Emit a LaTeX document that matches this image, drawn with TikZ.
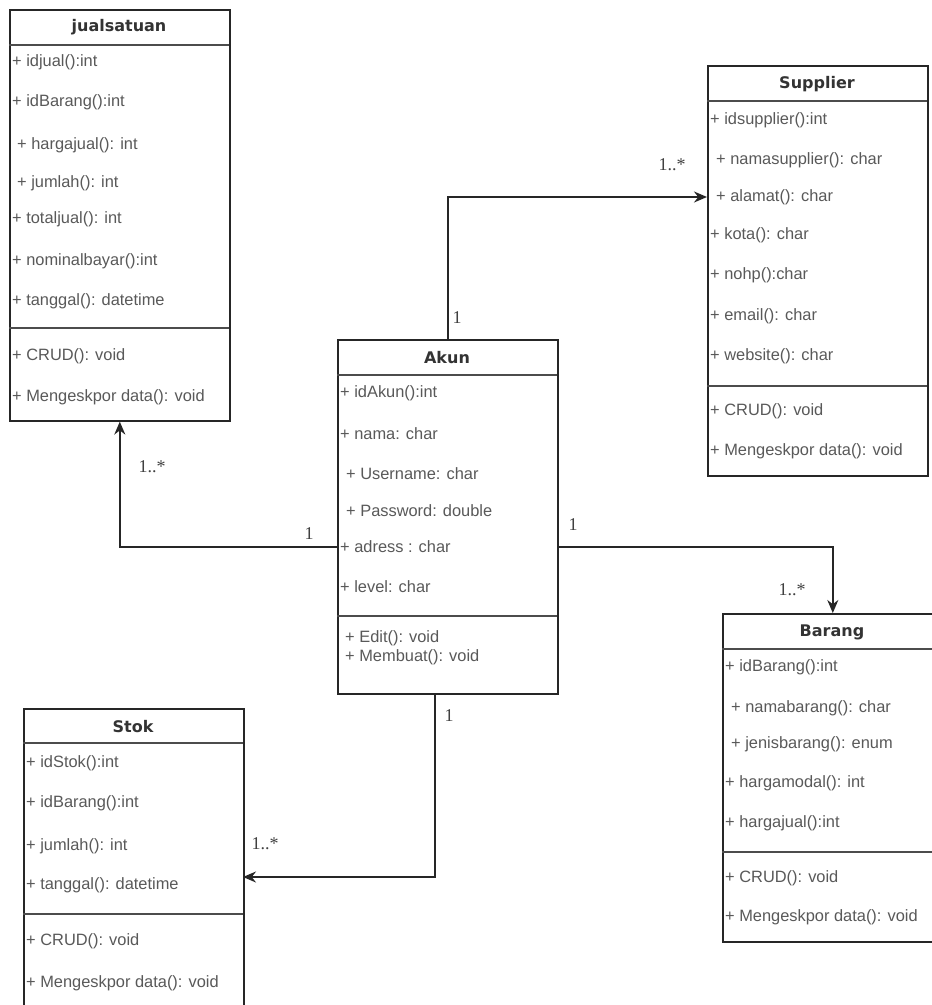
\documentclass[tikz,border=0pt]{standalone}
\usepackage{fontspec}
\setmainfont{Liberation Sans}
\newfontfamily\titlefont{DejaVu Sans}
\newfontfamily\labelfont{Liberation Serif}
\usetikzlibrary{arrows.meta}
\begin{document}
\begin{tikzpicture}[x=1pt,y=-1pt,
  classbox/.style={draw=black!85, line width=1.6pt, minimum width=220pt, anchor=north west, inner sep=0pt},
  divider/.style={draw=black!70, line width=1.3pt},
  ctitle/.style={font=\titlefont\bfseries\fontsize{16}{19}\selectfont, text=black!80, inner sep=0pt},
  attr/.style={font=\fontsize{16.4}{19}\selectfont, text=black!65, anchor=west, inner sep=0pt},
  mult/.style={font=\labelfont\fontsize{18}{21}\selectfont, text=black!75, inner sep=0pt},
  assoc/.style={draw=black!85, line width=1.7pt, -{Stealth[length=13pt,width=11pt]}},
]
\useasboundingbox (0,0) rectangle (932,1005);
\clip (0,0) rectangle (932,1005);
\fill[white] (0,0) rectangle (932,1005);

% ---------- jualsatuan ----------
\node[classbox, minimum height=411pt] (jual) at (9,9) {};
\node[ctitle] (jualT) at (119,27) {jualsatuan};
\draw[divider] (9,45) -- (229,45);
\draw[divider] (9,328) -- (229,328);
\node[attr] (j1) at (12,62) {+ idjual():int};
\node[attr] (j2) at (12,102) {+ idBarang():int};
\node[attr] (j3) at (17,145) {+ hargajual(): int};
\node[attr] (j4) at (17,183) {+ jumlah(): int};
\node[attr] (j5) at (12,219) {+ totaljual(): int};
\node[attr] (j6) at (12,261) {+ nominalbayar():int};
\node[attr] (j7) at (12,301) {+ tanggal(): datetime};
\node[attr] (j8) at (12,356) {+ CRUD(): void};
\node[attr] (j9) at (12,397) {+ Mengeskpor data(): void};

% ---------- Supplier ----------
\node[classbox, minimum height=410pt] (sup) at (707,65) {};
\node[ctitle] (supT) at (817,84) {Supplier};
\draw[divider] (707,101) -- (927,101);
\draw[divider] (707,386) -- (927,386);
\node[attr] (s1) at (710,120) {+ idsupplier():int};
\node[attr] (s2) at (716,160) {+ namasupplier(): char};
\node[attr] (s3) at (716,197) {+ alamat(): char};
\node[attr] (s4) at (710,235) {+ kota(): char};
\node[attr] (s5) at (710,275) {+ nohp():char};
\node[attr] (s6) at (710,316) {+ email(): char};
\node[attr] (s7) at (710,356) {+ website(): char};
\node[attr] (s8) at (710,411) {+ CRUD(): void};
\node[attr] (s9) at (710,451) {+ Mengeskpor data(): void};

% ---------- Akun ----------
\node[classbox, minimum height=354pt] (akun) at (337,339) {};
\node[ctitle] (akunT) at (447,358) {Akun};
\draw[divider] (337,375) -- (557,375);
\draw[divider] (337,616) -- (557,616);
\node[attr] (a1) at (340,393) {+ idAkun():int};
\node[attr] (a2) at (340,434) {+ nama: char};
\node[attr] (a3) at (346,474) {+ Username: char};
\node[attr] (a4) at (346,511) {+ Password: double};
\node[attr] (a5) at (340,547) {+ adress : char};
\node[attr] (a6) at (340,587) {+ level: char};
\node[attr] (a7) at (345,638) {+ Edit(): void};
\node[attr] (a8) at (345,657) {+ Membuat(): void};

% ---------- Barang ----------
\node[classbox, minimum height=328pt] (barang) at (722,613) {};
\node[ctitle] (barangT) at (832,632) {Barang};
\draw[divider] (722,649) -- (942,649);
\draw[divider] (722,852) -- (942,852);
\node[attr] (b1) at (725,667) {+ idBarang():int};
\node[attr] (b2) at (731,708) {+ namabarang(): char};
\node[attr] (b3) at (731,744) {+ jenisbarang(): enum};
\node[attr] (b4) at (725,783) {+ hargamodal(): int};
\node[attr] (b5) at (725,823) {+ hargajual():int};
\node[attr] (b6) at (725,878) {+ CRUD(): void};
\node[attr] (b7) at (725,917) {+ Mengeskpor data(): void};

% ---------- Stok ----------
\node[classbox, minimum height=320pt] (stok) at (23,708) {};
\node[ctitle] (stokT) at (133,727) {Stok};
\draw[divider] (23,743) -- (243,743);
\draw[divider] (23,914) -- (243,914);
\node[attr] (k1) at (26,763) {+ idStok():int};
\node[attr] (k2) at (26,803) {+ idBarang():int};
\node[attr] (k3) at (26,846) {+ jumlah(): int};
\node[attr] (k4) at (26,885) {+ tanggal(): datetime};
\node[attr] (k5) at (26,941) {+ CRUD(): void};
\node[attr] (k6) at (26,983) {+ Mengeskpor data(): void};

% ---------- connectors ----------
\coordinate (stokIn) at (243,877);
\draw[assoc] (akun.north) |- (sup.west |- s3);
\draw[assoc] (akun.west |- a5) -| (jual.south);
\draw[assoc] (akun.east |- a5) -| (barang.north);
\draw[assoc] ([xshift=-13pt]akun.south) |- (stokIn);

% ---------- multiplicities ----------
\node[mult] (m1) at (457,318) {1};
\node[mult] (m2) at (672,165) {1..*};
\node[mult] (m3) at (152,467) {1..*};
\node[mult] (m4) at (309,534) {1};
\node[mult] (m5) at (573,525) {1};
\node[mult] (m6) at (792,590) {1..*};
\node[mult] (m7) at (449,716) {1};
\node[mult] (m8) at (265,844) {1..*};
\end{tikzpicture}
\end{document}
